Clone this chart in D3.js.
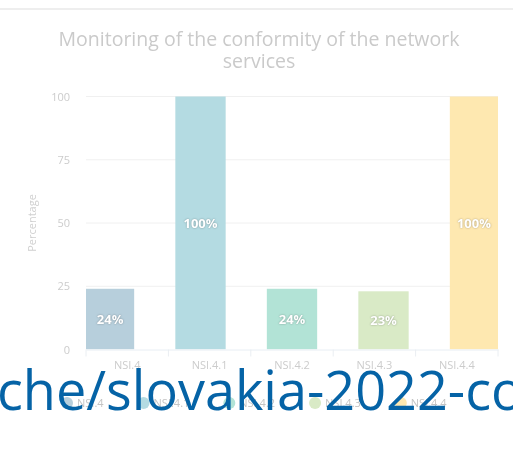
<!DOCTYPE html>
<html>
<head>
<meta charset="utf-8">
<script src="https://cdn.jsdelivr.net/npm/d3@7"></script>
<style>
  html, body { margin: 0; padding: 0; background: #fff; }
  svg { display: block; }
</style>
</head>
<body>
<svg id="chart" width="513" height="462"></svg>
<script>
const categories = ["NSI.4", "NSI.4.1", "NSI.4.2", "NSI.4.3", "NSI.4.4"];
const values = [24, 100, 24, 23, 100];
const barColors = ["#b7cfdc", "#b4dbe2", "#b2e3d6", "#d9eac6", "#fee8b0"];
const yTicks = [0, 25, 50, 75, 100];
const titleLines = ["Monitoring of the conformity of the network", "services"];
const yTitle = "Percentage";
const overlayText = "che/slovakia-2022-co";

const svg = d3.select("#chart");
const W = 513, H = 462;
const plot = { left: 86, right: 498, top: 96.5, bottom: 349.5 };

const chart = svg.append("g").style("filter", "blur(0.5px)");

// top rule
chart.append("line").attr("x1", 0).attr("x2", W).attr("y1", 9).attr("y2", 9)
  .attr("stroke", "#eeeeee").attr("stroke-width", 2);

// title
chart.append("text").attr("x", 259).attr("y", 46).attr("text-anchor", "middle")
  .attr("font-family", "Open Sans").attr("font-size", 19.5).attr("fill", "#cacaca")
  .selectAll("tspan").data(titleLines).join("tspan")
  .attr("x", 259).attr("dy", (d, i) => i === 0 ? 0 : 22).text(d => d);

const y = d3.scaleLinear().domain([0, 100]).range([plot.bottom, plot.top]);
const xAxisScale = d3.scaleBand().domain(categories).range([plot.left, plot.right]);
const step = 91.5;
const xBar = d3.scaleBand().domain(categories)
  .range([109 - step / 2, 109 + step * (categories.length - 0.5)])
  .paddingInner(0.45).paddingOuter(0.225);

// gridlines
chart.append("g").selectAll("line").data(yTicks.filter(d => d > 0)).join("line")
  .attr("x1", plot.left).attr("x2", plot.right)
  .attr("y1", d => y(d)).attr("y2", d => y(d))
  .attr("stroke", "#f0f0f0").attr("stroke-width", 1);

// y axis labels
const yAxis = d3.axisLeft(y).tickValues(yTicks).tickSize(0).tickPadding(0);
const yg = chart.append("g").attr("transform", `translate(70,0)`).call(yAxis);
yg.select(".domain").remove();
yg.selectAll("text").attr("font-family", "Open Sans").attr("font-size", 11).attr("fill", "#cccccc");

// y title
chart.append("text").attr("transform", `translate(36,${(plot.top + plot.bottom) / 2}) rotate(-90)`)
  .attr("text-anchor", "middle").attr("font-family", "Open Sans").attr("font-size", 11)
  .attr("fill", "#d0d0d0").text(yTitle);

// clip
svg.append("defs").append("clipPath").attr("id", "plotclip").append("rect")
  .attr("x", plot.left).attr("y", 0).attr("width", plot.right - plot.left).attr("height", plot.bottom);

// bars
const bars = chart.append("g").attr("clip-path", "url(#plotclip)");
bars.selectAll("rect").data(categories).join("rect")
  .attr("x", d => xBar(d)).attr("width", xBar.bandwidth())
  .attr("y", (d, i) => y(values[i])).attr("height", (d, i) => y(0) - y(values[i]))
  .attr("fill", (d, i) => barColors[i]);

// x axis
const xAxis = d3.axisBottom(xAxisScale).tickSize(0).tickPadding(12);
const xg = chart.append("g").attr("transform", `translate(0,${plot.bottom})`).call(xAxis);
xg.select(".domain").attr("stroke", "#e8eef4");
xg.selectAll("text").attr("font-family", "Open Sans").attr("font-size", 11).attr("fill", "#cccccc");
xg.selectAll(".bound").data(d3.range(categories.length + 1)).join("line").attr("class", "bound")
  .attr("x1", i => plot.left + i * xAxisScale.step()).attr("x2", i => plot.left + i * xAxisScale.step())
  .attr("y1", 0).attr("y2", 7).attr("stroke", "#eaeef2");

// bar labels
const lbl = chart.append("g");
lbl.selectAll("text").data(categories).join("text")
  .attr("x", d => Math.max(xBar(d), plot.left) + (Math.min(xBar(d) + xBar.bandwidth(), plot.right) - Math.max(xBar(d), plot.left)) / 2)
  .attr("y", (d, i) => (y(values[i]) + y(0)) / 2 + 5)
  .attr("text-anchor", "middle").attr("font-family", "Open Sans").attr("font-weight", "bold")
  .attr("font-size", 13).attr("fill", "#ffffff")
  .style("text-shadow", "0 0 2px rgba(0,0,0,0.35)")
  .text((d, i) => values[i] + "%");

// legend
const leg = chart.append("g").attr("transform", "translate(0,403)");
let lx = 61;
categories.forEach((c, i) => {
  const g = leg.append("g").attr("transform", `translate(${lx},0)`);
  g.append("circle").attr("cx", 6).attr("cy", 0).attr("r", 6).attr("fill", barColors[i]);
  const t = g.append("text").attr("x", 16).attr("y", 4).attr("font-family", "Open Sans")
    .attr("font-size", 11).attr("fill", "#c4c4c4").text(c);
  lx += 16 + t.node().getComputedTextLength() + 34;
});

// overlay url text
svg.append("text").attr("x", -3).attr("y", 410).attr("font-family", "Open Sans")
  .attr("font-size", 54).attr("fill", "#0563a6").text(overlayText);
</script>
</body>
</html>
